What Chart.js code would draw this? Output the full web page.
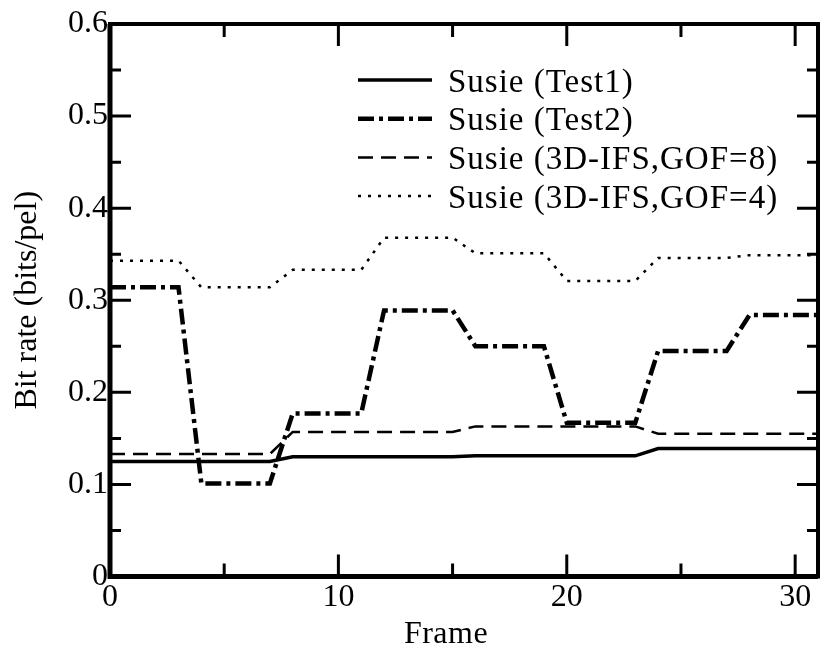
<!DOCTYPE html>
<html>
<head>
<meta charset="utf-8">
<title>Bit rate por frame</title>
<script src="https://cdn.jsdelivr.net/npm/chart.js@4.4.0/dist/chart.umd.min.js"></script>
<style>
  html, body { margin: 0; padding: 0; background: #fff; }
  canvas { display: block; }
</style>
</head>
<body>
<canvas id="grafico" width="820" height="653"></canvas>
<script>
// --- Dados ---
const frames = [0, 1, 2, 3, 4, 5, 6, 7, 8, 9, 10, 11, 12, 13, 14, 15,
                16, 17, 18, 19, 20, 21, 22, 23, 24, 25, 26, 27, 28, 29, 30, 31];

const test1 = [0.125, 0.125, 0.125, 0.125, 0.125, 0.125, 0.125, 0.125,
               0.130, 0.130, 0.130, 0.130, 0.130, 0.130, 0.130, 0.130,
               0.131, 0.131, 0.131, 0.131, 0.131, 0.131, 0.131, 0.131,
               0.139, 0.139, 0.139, 0.139, 0.139, 0.139, 0.139, 0.139];

const test2 = [0.314, 0.314, 0.314, 0.314, 0.101, 0.101, 0.101, 0.101,
               0.177, 0.177, 0.177, 0.177, 0.289, 0.289, 0.289, 0.289,
               0.250, 0.250, 0.250, 0.250, 0.167, 0.167, 0.167, 0.167,
               0.245, 0.245, 0.245, 0.245, 0.284, 0.284, 0.284, 0.284];

const gof8 = [0.133, 0.133, 0.133, 0.133, 0.133, 0.133, 0.133, 0.133,
              0.157, 0.157, 0.157, 0.157, 0.157, 0.157, 0.157, 0.157,
              0.163, 0.163, 0.163, 0.163, 0.163, 0.163, 0.163, 0.163,
              0.155, 0.155, 0.155, 0.155, 0.155, 0.155, 0.155, 0.155];

const gof4 = [0.343, 0.343, 0.343, 0.343, 0.314, 0.314, 0.314, 0.314,
              0.333, 0.333, 0.333, 0.333, 0.368, 0.368, 0.368, 0.368,
              0.351, 0.351, 0.351, 0.351, 0.321, 0.321, 0.321, 0.321,
              0.346, 0.346, 0.346, 0.346, 0.349, 0.349, 0.349, 0.349];

const seriesLabels = ['Susie (Test1)', 'Susie (Test2)', 'Susie (3D-IFS,GOF=8)', 'Susie (3D-IFS,GOF=4)'];

// ticks e rótulos dos eixos
const xTickValues = [0, 10, 20, 30];
const xMinorTicks = [5, 15, 25];
const xMajorTicks = [10, 20, 30];
const yTickValues = [0, 0.1, 0.2, 0.3, 0.4, 0.5, 0.6];
const yTickLabels = ['0', '0.1', '0.2', '0.3', '0.4', '0.5', '0.6'];
const yMinorTicks = [0.05, 0.15, 0.25, 0.35, 0.45, 0.55];
const yMajorTicks = [0.1, 0.2, 0.3, 0.4, 0.5];
const xTitle = 'Frame';
const yTitle = 'Bit rate (bits/pel)';

const SERIF = '"Liberation Serif", "Times New Roman", Times, serif';

function pontos(valores) {
  return frames.map((f, i) => ({ x: f, y: valores[i] }));
}

// moldura, ticks internos, legenda e título do eixo x
const molduraPlugin = {
  id: 'moldura',
  afterDraw(chart) {
    const { ctx, chartArea: a, scales: { x, y } } = chart;
    ctx.save();
    ctx.strokeStyle = '#000';
    ctx.lineCap = 'butt';

    // ticks do eixo x (em baixo e em cima, para dentro)
    ctx.lineWidth = 3;
    const tickX = (v, len) => {
      const px = x.getPixelForValue(v);
      ctx.beginPath();
      ctx.moveTo(px, a.bottom); ctx.lineTo(px, a.bottom - len);
      ctx.moveTo(px, a.top); ctx.lineTo(px, a.top + len);
      ctx.stroke();
    };
    xMajorTicks.forEach(v => tickX(v, 22));
    xMinorTicks.forEach(v => tickX(v, 13));

    const tickY = (v, len) => {
      const py = y.getPixelForValue(v);
      ctx.beginPath();
      ctx.moveTo(a.left, py); ctx.lineTo(a.left + len, py);
      ctx.moveTo(a.right, py); ctx.lineTo(a.right - len, py);
      ctx.stroke();
    };
    yMajorTicks.forEach(v => tickY(v, 21));
    yMinorTicks.forEach(v => tickY(v, 11));

    // moldura
    ctx.lineWidth = 4;
    ctx.strokeRect(a.left, a.top, a.right - a.left, a.bottom - a.top);
    ctx.lineWidth = 5;
    ctx.beginPath();
    ctx.moveTo(a.left, a.top); ctx.lineTo(a.left, a.bottom); ctx.lineTo(a.right, a.bottom);
    ctx.stroke();

    // legenda
    const lx0 = a.left + 248, lx1 = lx0 + 74, tx = lx1 + 16;
    ctx.font = '33px ' + SERIF;
    ctx.fillStyle = '#000';
    ctx.textAlign = 'left';
    ctx.textBaseline = 'middle';
    if ('letterSpacing' in ctx) ctx.letterSpacing = '1px';
    chart.data.datasets.forEach((ds, i) => {
      const cy = a.top + 59 + i * 38.7;
      ctx.save();
      ctx.lineWidth = ds.borderWidth;
      ctx.setLineDash(ds.borderDash || []);
      ctx.beginPath();
      ctx.moveTo(lx0, cy - 3); ctx.lineTo(lx1, cy - 3);
      ctx.stroke();
      ctx.restore();
      ctx.fillText(ds.label, tx, cy);
    });

    // título do eixo x
    if ('letterSpacing' in ctx) ctx.letterSpacing = '0.5px';
    ctx.font = '32px ' + SERIF;
    ctx.textAlign = 'center';
    ctx.fillText(xTitle, (a.left + a.right) / 2 - 18, 635);
    ctx.restore();
  }
};

const ctx = document.getElementById('grafico').getContext('2d');
new Chart(ctx, {
  type: 'line',
  data: {
    datasets: [
      { label: seriesLabels[0], data: pontos(test1), borderColor: '#000', borderWidth: 3.5, borderDash: [] },
      { label: seriesLabels[1], data: pontos(test2), borderColor: '#000', borderWidth: 4.5, borderDash: [16, 5, 4, 5] },
      { label: seriesLabels[2], data: pontos(gof8), borderColor: '#000', borderWidth: 2.5, borderDash: [15, 8] },
      { label: seriesLabels[3], data: pontos(gof4), borderColor: '#000', borderWidth: 2.5, borderDash: [3, 7] }
    ]
  },
  options: {
    responsive: false,
    animation: false,
    layout: { padding: { top: 24, right: 2, left: 0, bottom: 0 } },
    elements: { point: { radius: 0 }, line: { tension: 0, fill: false } },
    plugins: { legend: { display: false }, tooltip: { enabled: false } },
    scales: {
      x: {
        type: 'linear', min: 0, max: 31,
        afterBuildTicks: s => { s.ticks = xTickValues.map(v => ({ value: v })); },
        afterFit: s => { s.height = 76.5; },
        grid: { display: false, drawTicks: false },
        border: { display: false },
        ticks: { color: '#000', padding: 2, maxRotation: 0, autoSkip: false,
                 font: { family: SERIF, size: 32 }, callback: v => String(v) }
      },
      y: {
        type: 'linear', min: 0, max: 0.6,
        afterBuildTicks: s => { s.ticks = yTickValues.map(v => ({ value: v })); },
        afterFit: s => { s.width = 110; },
        grid: { display: false, drawTicks: false },
        border: { display: false },
        ticks: { color: '#000', padding: 2, autoSkip: false,
                 font: { family: SERIF, size: 32 }, callback: (v, i) => yTickLabels[i] },
        title: { display: true, text: yTitle, color: '#000', padding: { top: 8, bottom: 0 },
                 font: { family: SERIF, size: 32 } }
      }
    }
  },
  plugins: [molduraPlugin]
});
</script>
</body>
</html>
